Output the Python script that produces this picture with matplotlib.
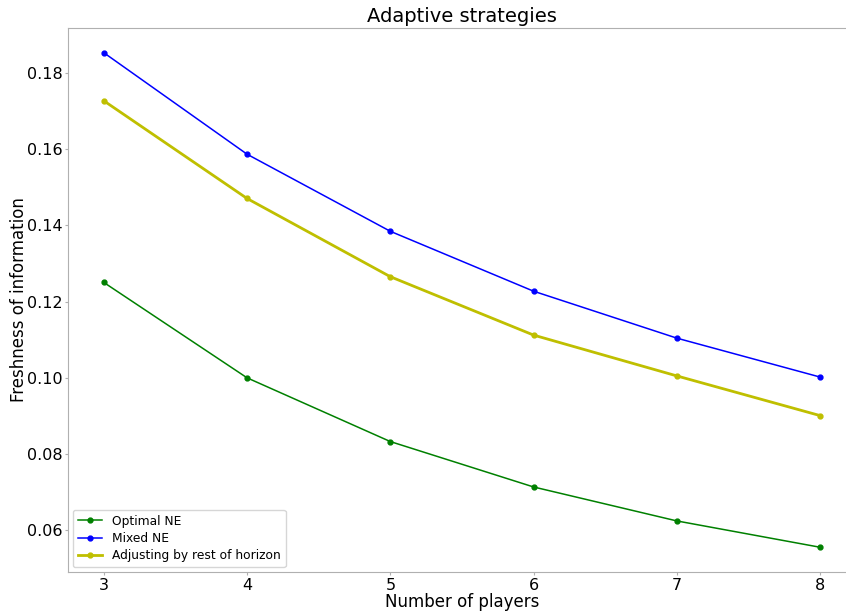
import numpy as np
import matplotlib
matplotlib.use('Agg')
import matplotlib.pyplot as plt

# Number of players on the x axis
players = [3, 4, 5, 6, 7, 8]

# Freshness values
optimal_ne = [0.1250, 0.1000, 0.0833, 0.0714, 0.0625, 0.0556]
mixed_ne = [0.1852, 0.1586, 0.1384, 0.1227, 0.1104, 0.1002]
adjusting = [0.1726, 0.1470, 0.1265, 0.1112, 0.1005, 0.0901]

fig = plt.figure(figsize=(8.46, 6.15), dpi=100)
# axes runs slightly past the right edge, as in the reference
ax = fig.add_axes([68 / 846, 1 - 572 / 615, (856 - 68) / 846, (572 - 28) / 615])

ax.plot(players, optimal_ne, color='g', marker='o', markersize=3.5, linewidth=1.1, label='Optimal NE')
ax.plot(players, mixed_ne, color='b', marker='o', markersize=3.5, linewidth=1.1, label='Mixed NE')
ax.plot(players, adjusting, color='y', marker='o', markersize=3.5, linewidth=2, label='Adjusting by rest of horizon')

ax.set_title('Adaptive strategies', fontsize=14, pad=4)
ax.set_xlabel('Number of players', fontsize=12, labelpad=0)
ax.set_ylabel('Freshness of information', fontsize=12, labelpad=-1)
ax.set_xticks(players)
ax.set_yticks([0.06, 0.08, 0.10, 0.12, 0.14, 0.16, 0.18])
ax.tick_params(labelsize=11.5, color='#b0b0b0', length=2, pad=2)

for side in ['left', 'top', 'bottom']:
    ax.spines[side].set_color('#b0b0b0')
ax.spines['right'].set_visible(False)

ax.legend(loc='lower left', fontsize=8.8, labelspacing=0.35, borderaxespad=0.4)

fig.savefig('out.png', dpi=100)
